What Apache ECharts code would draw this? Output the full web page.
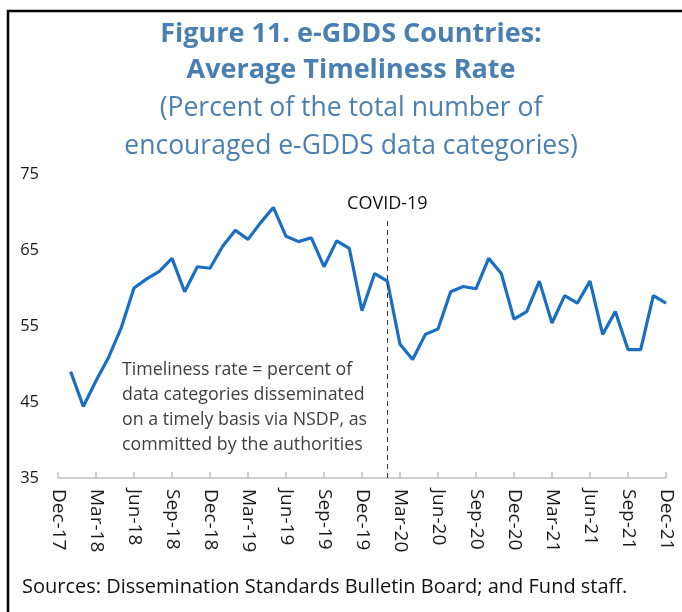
<!DOCTYPE html>
<html>
<head>
<meta charset="utf-8">
<script src="https://cdn.jsdelivr.net/npm/echarts@6/dist/echarts.min.js"></script>
<style>
  html, body { margin: 0; padding: 0; background: #fff; }
  #chart { width: 682px; height: 612px; }
</style>
</head>
<body>
<div id="chart"></div>
<script>
// monthly categories, Dec-17 .. Dec-21
const months = [
  'Dec-17',
  'Jan-18', 'Feb-18', 'Mar-18', 'Apr-18', 'May-18', 'Jun-18', 'Jul-18', 'Aug-18', 'Sep-18', 'Oct-18', 'Nov-18', 'Dec-18',
  'Jan-19', 'Feb-19', 'Mar-19', 'Apr-19', 'May-19', 'Jun-19', 'Jul-19', 'Aug-19', 'Sep-19', 'Oct-19', 'Nov-19', 'Dec-19',
  'Jan-20', 'Feb-20', 'Mar-20', 'Apr-20', 'May-20', 'Jun-20', 'Jul-20', 'Aug-20', 'Sep-20', 'Oct-20', 'Nov-20', 'Dec-20',
  'Jan-21', 'Feb-21', 'Mar-21', 'Apr-21', 'May-21', 'Jun-21', 'Jul-21', 'Aug-21', 'Sep-21', 'Oct-21', 'Nov-21', 'Dec-21'
]

// average timeliness rate, percent (no value for Dec-17)
const timeliness = [
  null,
  49.0, 44.4, 47.8, 50.9, 54.8, 60.0, 61.2, 62.2, 63.9, 59.5, 62.8, 62.6,
  65.5, 67.6, 66.4, 68.6, 70.6, 66.8, 66.1, 66.6, 62.8, 66.2, 65.2, 57.0,
  61.9, 60.9, 52.6, 50.6, 53.9, 54.6, 59.5, 60.2, 59.9, 63.9, 61.9, 55.9,
  56.9, 60.9, 55.4, 59.0, 58.0, 60.9, 53.9, 56.9, 51.9, 51.9, 59.0, 58.0
]

const covidMonth = 'Feb-20'
const covidTop = 69

const chart = echarts.init(document.getElementById('chart'))
const font = '"Open Sans", sans-serif'
const titleColor = '#4a7fb2'

chart.setOption({
  animation: false,
  textStyle: { fontFamily: font },
  grid: { left: 58, right: 16, top: 174, bottom: 134, containLabel: false },
  xAxis: {
    type: 'category',
    data: months,
    boundaryGap: false,
    axisLine: { lineStyle: { color: '#bfbfbf', width: 1.5 } },
    axisTick: {
      inside: true,
      length: 6,
      interval: (i) => i % 3 === 0,
      lineStyle: { color: '#bfbfbf', width: 1.5 }
    },
    axisLabel: {
      interval: (i) => i % 3 === 0,
      rotate: -90,
      margin: 11,
      fontSize: 19,
      color: '#1a1a1a',
      fontFamily: font
    },
    splitLine: { show: false }
  },
  yAxis: {
    type: 'value',
    min: 35,
    max: 75,
    interval: 10,
    axisLine: { show: false },
    axisTick: { show: false },
    splitLine: { show: false },
    axisLabel: { fontSize: 16.5, color: '#1a1a1a', margin: 19, fontFamily: font, padding: [4, 0, 0, 0] }
  },
  series: [
    {
      type: 'line',
      data: timeliness,
      symbol: 'none',
      connectNulls: false,
      lineStyle: { color: '#1a6fc4', width: 3.2 },
      markLine: {
        silent: true,
        symbol: 'none',
        lineStyle: { color: '#333', type: [5, 4], width: 1 },
        label: {
          show: true,
          position: 'end',
          formatter: 'COVID-19',
          fontSize: 18,
          color: '#111',
          distance: 7,
          fontFamily: font
        },
        data: [[
          { coord: [covidMonth, 35] },
          { coord: [covidMonth, covidTop] }
        ]]
      }
    }
  ],
  graphic: [
    {
      type: 'polyline',
      shape: { points: [[8, 612], [8, 11], [682, 11]] },
      style: { stroke: '#000', lineWidth: 2.5, fill: null }
    },
    {
      type: 'text',
      x: 351,
      y: 16,
      style: {
        text: 'Figure 11. e-GDDS Countries:\nAverage Timeliness Rate',
        font: 'bold 27px ' + font,
        fill: titleColor,
        textAlign: 'center',
        textVerticalAlign: 'top',
        lineHeight: 36
      }
    },
    {
      type: 'text',
      x: 351,
      y: 89,
      style: {
        text: '(Percent of the total number of\nencouraged e-GDDS data categories)',
        font: '26.5px ' + font,
        fill: titleColor,
        textAlign: 'center',
        textVerticalAlign: 'top',
        lineHeight: 38
      }
    },
    {
      type: 'text',
      x: 122,
      y: 357,
      style: {
        text: 'Timeliness rate = percent of\ndata categories disseminated\non a timely basis via NSDP, as\ncommitted by the authorities',
        font: '17.8px ' + font,
        fill: '#404040',
        textVerticalAlign: 'top',
        lineHeight: 25
      }
    },
    {
      type: 'text',
      x: 22,
      y: 577,
      style: {
        text: 'Sources: Dissemination Standards Bulletin Board; and Fund staff.',
        font: '20px ' + font,
        fill: '#111',
        textVerticalAlign: 'top'
      }
    }
  ]
})
</script>
</body>
</html>
